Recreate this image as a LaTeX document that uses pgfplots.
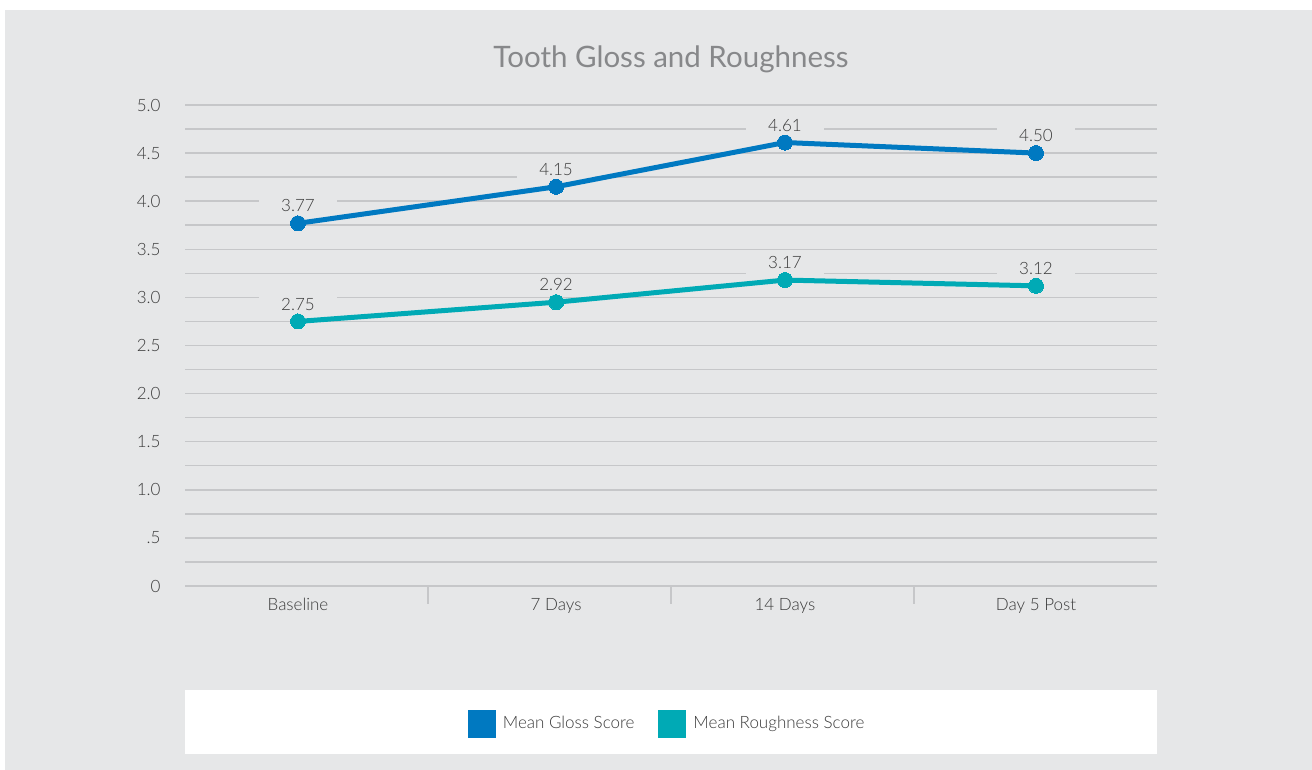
\documentclass[border=0pt]{standalone}
\usepackage{fontspec}
\setmainfont{Lato}[UprightFont={* Light}]
\newfontfamily\titlefont{Lato}
\usepackage{pgfplots}
\pgfplotsset{compat=1.18}

\definecolor{bg}{HTML}{E6E7E8}
\definecolor{gridc}{HTML}{C6C7C9}
\definecolor{gloss}{HTML}{0079C1}
\definecolor{rough}{HTML}{00AAB5}
\definecolor{txt}{HTML}{3A3A3A}
\definecolor{ttl}{HTML}{87888A}

\pgfdeclarelayer{pagebg}
\pgfplotsset{
  layers/withpage/.define layer set={pagebg,axis background,axis grid,
    axis ticks,axis lines,axis tick labels,pre main,main,axis descriptions,
    axis foreground}{/pgfplots/layers/standard},
}

\begin{document}
\begin{tikzpicture}
\pgfplotsset{set layers=withpage}
% page and panel, kept under everything the axis draws
\begin{pgfonlayer}{pagebg}
\fill[white] (0pt,0pt) rectangle (1312pt,770pt);
\fill[bg] (5pt,0pt) rectangle (1312pt,760pt);
\fill[white] (185pt,16pt) rectangle (1157pt,80pt);
\end{pgfonlayer}
\node[ttl, anchor=base, font=\titlefont\fontsize{29.5}{34}\selectfont] at (671pt,702pt) {Tooth Gloss and Roughness};

\begin{axis}[
  set layers=withpage,
  at={(185pt,184pt)}, anchor=south west,
  scale only axis, width=972pt, height=481pt,
  xmin=0, xmax=4, ymin=0, ymax=5,
  clip=false,
  axis line style={draw=none},
  ytick={0,0.5,...,5},
  yticklabels={0,.5,1.0,1.5,2.0,2.5,3.0,3.5,4.0,4.5,5.0},
  minor y tick num=1,
  ymajorgrids, yminorgrids,
  major grid style={gridc, line width=1.5pt},
  minor grid style={gridc, line width=1.5pt},
  y tick style={draw=none},
  yticklabel style={xshift=-3pt},
  xtick={1,2,3}, xticklabels={},
  x tick style={gridc, line width=1.5pt},
  xtick pos=bottom, tick align=outside,
  major tick length=18pt,
  extra x ticks={0.465,1.527,2.469,3.502},
  extra x tick labels={Baseline,7 Days,14 Days,Day 5 Post},
  extra x tick style={major tick length=0pt, xticklabel style={yshift=-9pt}},
  ticklabel style={font=\fontsize{17}{20}\selectfont, text=txt},
  nodes near coords style={anchor=south, yshift=6pt, fill=bg, inner xsep=22pt,
    inner ysep=5pt, text=txt, font=\fontsize{17}{20}\selectfont},
  legend style={at={(0.496,-0.286)}, anchor=center, draw=none, fill=none,
    legend columns=-1, font=\fontsize{17}{20}\selectfont, text=txt,
    /tikz/every odd column/.append style={column sep=5pt},
    /tikz/every even column/.append style={column sep=22pt}},
  legend image code/.code={\fill[#1] (0pt,-11.5pt) rectangle (23pt,11.5pt);},
]
% value labels (their boxes hide the grid, the lines lie above them)
\addplot[draw=none, mark=none, forget plot, point meta=explicit symbolic,
  nodes near coords] coordinates {
  (0.465,3.77) [3.77] (1.527,4.15) [4.15] (2.469,4.61) [4.61] (3.502,4.50) [4.50]
};
\addplot[draw=none, mark=none, forget plot, point meta=explicit symbolic,
  nodes near coords] coordinates {
  (0.465,2.75) [2.75] (1.527,2.95) [2.92] (2.469,3.18) [3.17] (3.502,3.12) [3.12]
};

\addplot[on layer=axis foreground, color=gloss, line width=5pt, mark=*,
  mark size=7.5pt, mark options={line width=0pt}] coordinates {
  (0.465,3.77) (1.527,4.15) (2.469,4.61) (3.502,4.50)
};
\addlegendentry{Mean Gloss Score}
\addplot[on layer=axis foreground, color=rough, line width=5pt, mark=*,
  mark size=7.5pt, mark options={line width=0pt}] coordinates {
  (0.465,2.75) (1.527,2.95) (2.469,3.18) (3.502,3.12)
};
\addlegendentry{Mean Roughness Score}
\end{axis}
\end{tikzpicture}
\end{document}
